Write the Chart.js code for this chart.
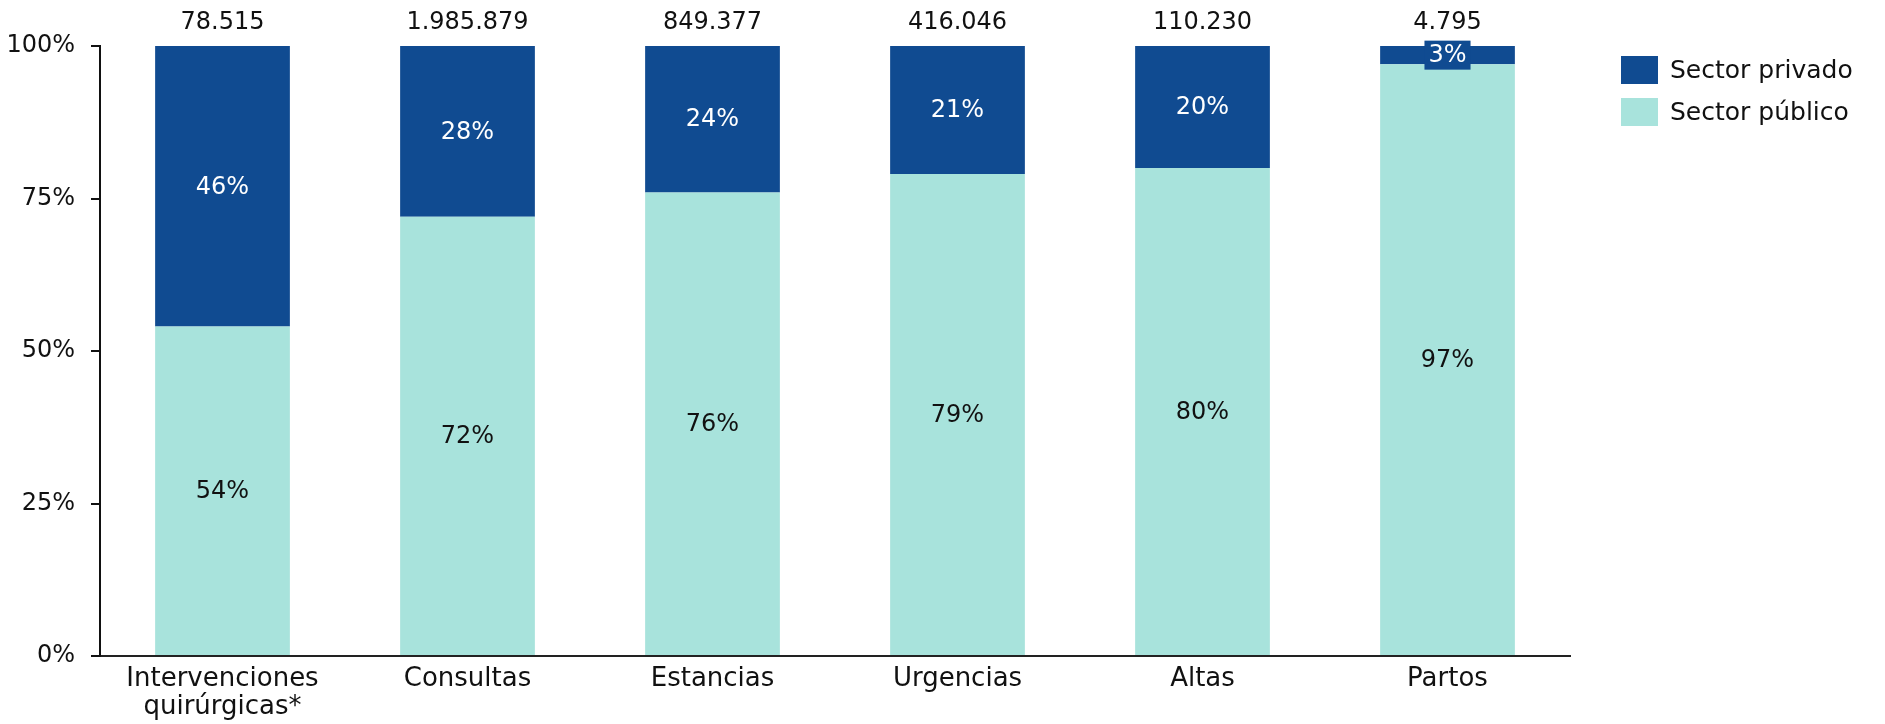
<!DOCTYPE html>
<html>
<head>
<meta charset="utf-8">
<script src="https://cdn.jsdelivr.net/npm/chart.js@4/dist/chart.umd.min.js"></script>
<style>
  html, body { margin: 0; padding: 0; background: #fff; }
  #wrap { width: 1885px; height: 724px; position: relative; }
</style>
</head>
<body>
<div id="wrap"><canvas id="c"></canvas></div>
<script>
const categories = [['Intervenciones', 'quirúrgicas*'], 'Consultas', 'Estancias', 'Urgencias', 'Altas', 'Partos'];
const publico = [54, 72, 76, 79, 80, 97];
const privado = [46, 28, 24, 21, 20, 3];
const totals = ['78.515', '1.985.879', '849.377', '416.046', '110.230', '4.795'];
const yTicks = [0, 25, 50, 75, 100];

const FONT = "'DejaVu Sans', sans-serif";
const COL_PRIV = '#104B91';
const COL_PUB = '#A8E3DC';

const labelsPlugin = {
  id: 'barLabels',
  afterDatasetsDraw(chart) {
    const ctx = chart.ctx;
    ctx.save();
    ctx.font = '24px ' + FONT;
    ctx.textAlign = 'center';
    ctx.textBaseline = 'middle';
    chart.data.datasets.forEach((ds, di) => {
      const meta = chart.getDatasetMeta(di);
      meta.data.forEach((bar, i) => {
        const v = ds.data[i];
        const txt = v + '%';
        const cy = (bar.y + bar.base) / 2;
        const h = Math.abs(bar.base - bar.y);
        if (h < 28) {
          const w = ctx.measureText(txt).width + 8;
          ctx.fillStyle = ds.backgroundColor;
          ctx.fillRect(bar.x - w / 2, cy - 14.5, w, 29);
        }
        ctx.fillStyle = ds.labelColor;
        ctx.fillText(txt, bar.x, cy + 1);
      });
    });
    // totals above bars
    const topMeta = chart.getDatasetMeta(chart.data.datasets.length - 1);
    ctx.fillStyle = '#111';
    topMeta.data.forEach((bar, i) => {
      ctx.fillText(totals[i], bar.x, bar.y - 23);
    });
    // legend (from datasets, top-most first)
    const items = chart.data.datasets.slice().reverse();
    ctx.textAlign = 'left';
    ctx.font = '25px ' + FONT;
    items.forEach((ds, k) => {
      const y = 70 + k * 42;
      ctx.fillStyle = ds.backgroundColor;
      ctx.fillRect(1621, y - 14, 37, 28);
      ctx.fillStyle = '#111';
      ctx.fillText(ds.label, 1670, y + 1);
    });
    ctx.restore();
  }
};

new Chart(document.getElementById('c'), {
  type: 'bar',
  data: {
    labels: categories,
    datasets: [
      { label: 'Sector público', data: publico, backgroundColor: COL_PUB, labelColor: '#111',
        categoryPercentage: 1, barPercentage: 0.55 },
      { label: 'Sector privado', data: privado, backgroundColor: COL_PRIV, labelColor: '#fff',
        categoryPercentage: 1, barPercentage: 0.55 }
    ]
  },
  options: {
    responsive: true,
    maintainAspectRatio: false,
    animation: false,
    layout: { padding: { top: 46, right: 315, left: 0, bottom: 0 } },
    plugins: { legend: { display: false }, tooltip: { enabled: false } },
    scales: {
      x: {
        stacked: true,
        grid: { display: false, drawTicks: false },
        border: { display: true, color: '#222', width: 2 },
        ticks: { color: '#111', font: { family: FONT, size: 26, lineHeight: 1.05 }, padding: 10, maxRotation: 0, autoSkip: false },
        afterFit(scale) { scale.height = 68; }
      },
      y: {
        stacked: true,
        min: 0, max: 100,
        afterBuildTicks(scale) { scale.ticks = yTicks.map(v => ({ value: v })); },
        grid: { drawOnChartArea: false, drawTicks: true, tickLength: 9, color: '#111', lineWidth: 2 },
        border: { display: true, color: '#111', width: 2 },
        ticks: { color: '#111', font: { family: FONT, size: 24 }, padding: 16,
          callback: v => v + '%' },
        afterFit(scale) { scale.width = 100; }
      }
    }
  },
  plugins: [labelsPlugin]
});
</script>
</body>
</html>
